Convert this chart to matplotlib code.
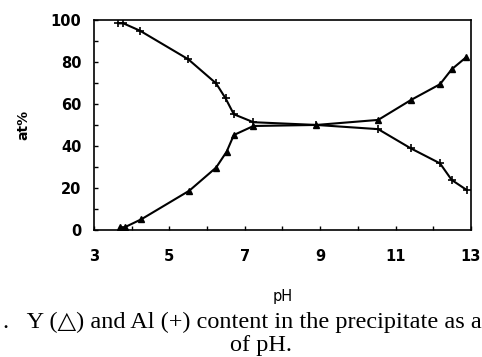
import matplotlib.pyplot as plt
from matplotlib.ticker import MultipleLocator

# Al (+) content, at%
al_ph = [3.65, 3.78, 4.22, 5.5, 6.24, 6.49, 6.71, 7.23, 8.9, 10.54, 11.4, 12.18, 12.49, 12.89]
al_pct = [98.4, 98.4, 94.9, 81.3, 69.8, 62.7, 55.1, 51.3, 50.0, 48.0, 38.9, 31.7, 23.8, 19.0]

# Y (triangle) content, at%
y_ph = [3.69, 3.82, 4.26, 5.53, 6.24, 6.52, 6.71, 7.23, 8.9, 10.54, 11.41, 12.18, 12.49, 12.87]
y_pct = [1.3, 1.3, 5.1, 18.7, 29.7, 37.3, 45.2, 49.5, 50.0, 52.4, 61.9, 69.4, 76.5, 82.2]

xticks = [3, 5, 7, 9, 11, 13]
yticks = [0, 20, 40, 60, 80, 100]

fig = plt.figure(figsize=(4.82, 3.57), dpi=100)
ax = fig.add_axes([0.195, 0.356, 0.782, 0.588])

ax.plot(al_ph, al_pct, color="black", lw=1.5, marker="+", ms=6, mew=1.2)
ax.plot(y_ph, y_pct, color="black", lw=1.5, marker="^", ms=4)

ax.set_xlim(3, 13)
ax.set_ylim(0, 100)
ax.set_xticks(xticks)
ax.set_yticks(yticks)
ax.xaxis.set_minor_locator(MultipleLocator(1))
ax.yaxis.set_minor_locator(MultipleLocator(10))
ax.tick_params(which="both", direction="in", length=3, width=1)
ax.tick_params(axis="x", pad=14)
ax.tick_params(axis="y", pad=9)
for lab in ax.get_xticklabels() + ax.get_yticklabels():
    lab.set_fontsize(10.5)
    lab.set_fontweight("bold")
for s in ax.spines.values():
    s.set_linewidth(1.2)

ax.set_ylabel("at%", fontsize=10, fontweight="bold", labelpad=15)
ax.set_xlabel("pH", fontsize=10.5, labelpad=18)

cap = ["Liberation Serif", "DejaVu Sans"]
fig.text(0.006, 1 - 322 / 357, ".   Y (\u25b3) and Al (+) content in the precipitate as a",
         fontsize=17.5, family=cap, va="center", ha="left")
fig.text(261 / 482, 1 - 346 / 357, "of pH.", fontsize=17.5, family=cap,
         va="center", ha="center")

fig.savefig("out.png", dpi=100)
